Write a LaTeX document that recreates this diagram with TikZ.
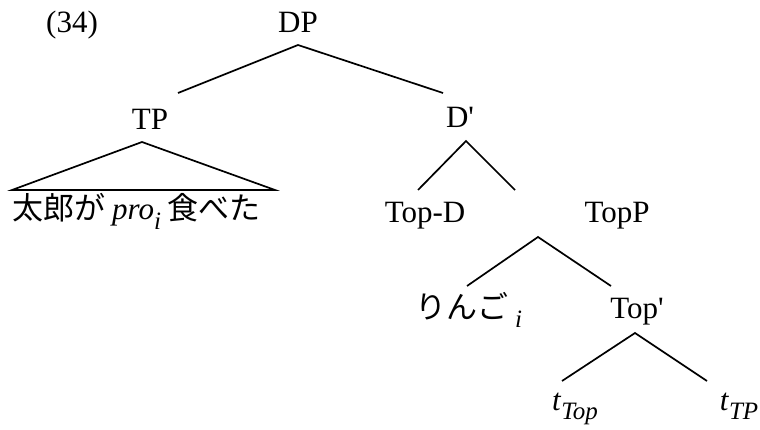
\documentclass[tikz,border=0pt]{standalone}
\usepackage{fontspec}
\setmainfont{Liberation Serif}
\newfontfamily\jpfont{Noto Sans CJK JP}
\usetikzlibrary{positioning}
\newcommand\lbsub[1]{\raisebox{-0.3em}{\fontsize{25}{25}\selectfont\rmfamily\itshape #1}}

\begin{document}
\begin{tikzpicture}[
    x=1pt, y=-1pt,
    label/.style={anchor=base, inner sep=0pt, font=\fontsize{31}{36}\selectfont},
    jp/.style={anchor=base west, inner sep=0pt, font=\fontsize{31}{36}\selectfont\jpfont},
    branch/.style={draw, line width=1.7pt, line join=miter}
]
    \useasboundingbox (0,0) rectangle (760,430);

    % Labels
    \node[label] (ex) at (72,33) {(34)};
    \node[label] (dp) at (298,33) {DP};
    \node[label] (tp) at (150,130) {TP};
    \node[label] (dbar) at (460,128) {D\textquotesingle};
    \node[jp] (tpyield) at (12,220) {太郎が {\rmfamily\itshape pro}\lbsub{i} 食べた};
    \node[label] (topd) at (425,223) {Top-D};
    \node[label] (topp) at (617,223) {TopP};
    \node[jp] (ringo) at (415,318) {りんご \lbsub{i}};
    \node[label] (topbar) at (637,318) {Top\textquotesingle};
    \node[label] (ttop) at (575,410) {\textit{t}\lbsub{Top}};
    \node[label] (ttp) at (739,410) {\textit{t}\lbsub{TP}};

    % Branch points
    \coordinate (dp-fork) at (298,45);
    \coordinate (tp-end) at (178,93);
    \coordinate (dbar-end) at (443,93);
    \coordinate (tp-fork) at (142,142);
    \coordinate (yield-l) at (12,190);
    \coordinate (yield-r) at (275,190);
    \coordinate (dbar-fork) at (466,141);
    \coordinate (topd-end) at (418,190);
    \coordinate (topp-end) at (515,190);
    \coordinate (topp-fork) at (538,237);
    \coordinate (ringo-end) at (467,286);
    \coordinate (topbar-end) at (611,286);
    \coordinate (topbar-fork) at (635,333);
    \coordinate (ttop-end) at (562,381);
    \coordinate (ttp-end) at (707,381);

    % Branches
    \draw[branch] (tp-end) -- (dp-fork) -- (dbar-end);
    \draw[branch] (tp-fork) -- (yield-l) -- (yield-r) -- cycle;
    \draw[branch] (topd-end) -- (dbar-fork) -- (topp-end);
    \draw[branch] (ringo-end) -- (topp-fork) -- (topbar-end);
    \draw[branch] (ttop-end) -- (topbar-fork) -- (ttp-end);

\end{tikzpicture}
\end{document}
